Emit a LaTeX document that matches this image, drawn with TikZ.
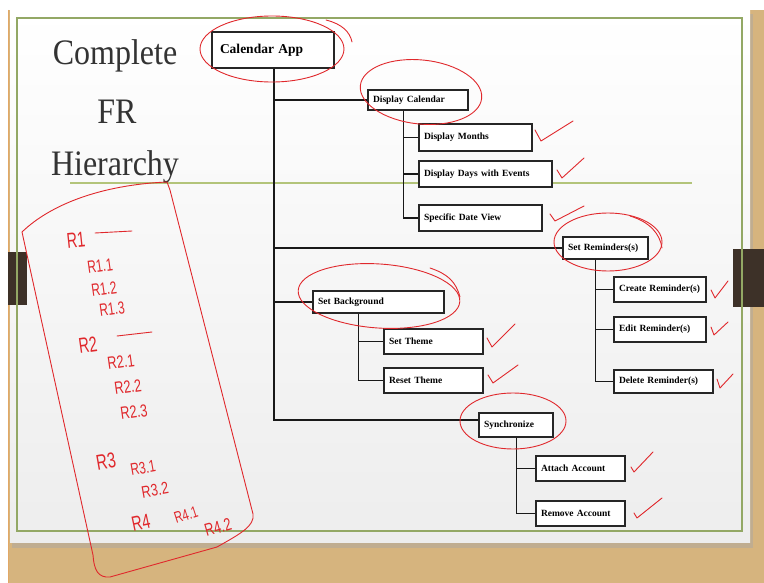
\documentclass[tikz,border=0pt]{standalone}
\usepackage{fontspec}
\setmainfont{Liberation Serif}
\newfontfamily\handfont{Liberation Sans}
\usetikzlibrary{calc}
\definecolor{wood}{HTML}{D6B47E}
\definecolor{woodedge}{HTML}{E2A866}
\definecolor{tab}{HTML}{3D3128}
\definecolor{frameline}{HTML}{93A865}
\definecolor{ruleline}{HTML}{B3C47A}
\definecolor{ink}{HTML}{E0282C}
\definecolor{titlegray}{HTML}{333333}
\tikzset{
  box/.style={draw=black!85, line width=1.3pt, fill=white, inner xsep=5pt,
    inner ysep=0pt, align=left, font=\bfseries\fontsize{9.5}{11}\selectfont},
  link/.style={draw=black!90, line width=1.3pt},
  redpen/.style={draw=ink, line width=0.9pt, line cap=round, line join=round},
  hand/.style={text=ink, inner sep=0pt, font=\handfont\fontsize{16}{16}\selectfont},
  titletext/.style={text=titlegray, font=\fontsize{32}{32}\selectfont}
}
\begin{document}
\begin{tikzpicture}[x=1pt, y=-1pt]
\useasboundingbox (0,0) rectangle (764,583);
% backdrop: paper margin, wooden board, slide with shadow
\fill[white] (0,0) rectangle (764,583);
\fill[wood] (8,10) rectangle (764,583);
\draw[woodedge, line width=1pt] (8.5,10) -- (8.5,583);
\fill[black!35, opacity=0.45] (12,14) rectangle (753,548);
\shade[top color=white, bottom color=black!7] (10,10) rectangle (750,542);
% board tabs
\fill[tab] (8,252) rectangle (27,305);
\fill[tab] (733,249) rectangle (764,307);
% slide frame and title rule
\draw[frameline, line width=1.3pt] (17,18) rectangle (742,531);
\draw[ruleline, line width=1.6pt] (70,183) -- (692,183);
% title
\node[titletext, yscale=1.12] (t1) at (115,56) {Complete};
\node[titletext, yscale=1.12] (t2) at (117,112) {FR};
\node[titletext, yscale=1.12] (t3) at (115,167) {Hierarchy};

% requirement boxes
\node[box, inner xsep=8pt, text width=106pt, minimum height=36pt,
  font=\bfseries\fontsize{13.5}{15}\selectfont] (app) at (273,50) {Calendar App};
\node[box, text width=90pt, minimum height=20pt] (dcal) at (418,100) {Display Calendar};
\node[box, text width=103pt, minimum height=27pt] (dmon) at (475.5,137.5) {Display Months};
\node[box, text width=123pt, minimum height=26pt] (ddays) at (485.5,174) {Display Days with Events};
\node[box, text width=113pt, minimum height=26pt] (sdv) at (480.5,218) {Specific Date View};
\node[box, text width=75pt, minimum height=22pt] (srem) at (605.5,248) {Set Reminders(s)};
\node[box, text width=82pt, minimum height=25pt] (crem) at (660,289.5) {Create Reminder(s)};
\node[box, text width=82pt, minimum height=25pt] (erem) at (660,329.5) {Edit Reminder(s)};
\node[box, text width=89pt, minimum height=23pt] (drem) at (663.5,381.5) {Delete Reminder(s)};
\node[box, text width=121pt, minimum height=22pt] (sbg) at (378.5,302) {Set Background};
\node[box, text width=89pt, minimum height=25pt] (stheme) at (433.5,341.5) {Set Theme};
\node[box, text width=89pt, minimum height=25pt] (rtheme) at (433.5,380.5) {Reset Theme};
\node[box, text width=64pt, minimum height=24pt] (sync) at (516,425) {Synchronize};
\node[box, text width=79pt, minimum height=25pt] (attach) at (580.5,468.5) {Attach Account};
\node[box, text width=79pt, minimum height=25pt] (remove) at (580.5,513.5) {Remove Account};

% stems below the parent boxes
\coordinate (appstem) at ([xshift=1pt]app.south);
\coordinate (dcalstem) at ([xshift=36pt]dcal.south west);
\coordinate (sremstem) at ([xshift=33pt]srem.south west);
\coordinate (sbgstem) at ([xshift=46pt]sbg.south west);
\coordinate (syncstem) at ([xshift=38pt]sync.south west);

% connectors
\draw[link] (appstem) |- (dcal.west);
\draw[link] (appstem) |- (srem.west);
\draw[link] (appstem) |- (sbg.west);
\draw[link] (appstem) |- ([yshift=5pt]sync.west);
\draw[link] (dcalstem) |- (dmon.west);
\draw[link] (dcalstem) |- (ddays.west);
\draw[link] (dcalstem) |- (sdv.west);
\draw[link] (sremstem) |- (crem.west);
\draw[link] (sremstem) |- (erem.west);
\draw[link] (sremstem) |- (drem.west);
\draw[link] (sbgstem) |- (stheme.west);
\draw[link] (sbgstem) |- (rtheme.west);
\draw[link] (syncstem) |- (attach.west);
\draw[link] (syncstem) |- (remove.west);

% red rings around the parent requirements
\draw[redpen] (272,49) ellipse[x radius=72pt, y radius=33pt];
\draw[redpen] (326,20) .. controls (342,24) and (350,32) .. (352,42);
\draw[redpen, rotate around={-6:(421,92)}] (421,92) ellipse[x radius=61pt, y radius=32pt];
\draw[redpen] (608,242) ellipse[x radius=54pt, y radius=29pt];
\draw[redpen] (630,216) .. controls (650,222) and (660,234) .. (662,248);
\draw[redpen, rotate around={-4:(379,296)}] (379,296) ellipse[x radius=81pt, y radius=32pt];
\draw[redpen] (430,268) .. controls (448,274) and (456,282) .. (460,297);
\draw[redpen] (513,421) ellipse[x radius=53pt, y radius=28pt];

% ticks beside the finished leaves
\draw[redpen] (535,130) -- (541,141) -- (573,121);
\draw[redpen] (557,170) -- (562,178) -- (584,158);
\draw[redpen] (550,214) -- (555,221) -- (584,206);
\draw[redpen] (487,338) -- (492,347) -- (515,324);
\draw[redpen] (488,375) -- (493,383) -- (518,365);
\draw[redpen] (711,290) -- (715,298) -- (728,281);
\draw[redpen] (711,327) -- (714,335) -- (728,322);
\draw[redpen] (717,379) -- (720,388) -- (733,374);
\draw[redpen] (631,467) -- (634,472) -- (653,452);
\draw[redpen] (634,513) -- (637,518) -- (662,498);

% hand-drawn frame around the numbering
\draw[redpen] (22,232) .. controls (50,205) and (100,185) .. (167,182)
  -- (170,190) -- (253,514)
  .. controls (255,526) and (240,534) .. (217,547)
  -- (110,577) .. controls (98,578) and (94,570) .. (93,555) -- cycle;

% handwritten requirement numbers
\node[hand, rotate=6] (r1) at (76,240) {\scalebox{0.9}[1.35]{R1}};
\draw[redpen] (95,233) -- (132,231);
\node[hand, rotate=8] (r11) at (100,266) {\scalebox{0.75}[1.1]{R1.1}};
\node[hand, rotate=8] (r12) at (104,289) {\scalebox{0.75}[1.1]{R1.2}};
\node[hand, rotate=8] (r13) at (112,309) {\scalebox{0.75}[1.1]{R1.3}};
\node[hand, rotate=8] (r2) at (88,345) {\scalebox{0.9}[1.35]{R2}};
\draw[redpen] (117,336) -- (152,332);
\node[hand, rotate=8] (r21) at (121,362) {\scalebox{0.8}[1.1]{R2.1}};
\node[hand, rotate=8] (r22) at (128,387) {\scalebox{0.8}[1.1]{R2.2}};
\node[hand, rotate=8] (r23) at (134,412) {\scalebox{0.8}[1.1]{R2.3}};
\node[hand, rotate=10] (r3) at (106,461) {\scalebox{0.95}[1.35]{R3}};
\node[hand, rotate=10] (r31) at (143,468) {\scalebox{0.75}[1.05]{R3.1}};
\node[hand, rotate=10] (r32) at (155,490) {\scalebox{0.8}[1.05]{R3.2}};
\node[hand, rotate=12] (r4) at (141,523) {\scalebox{0.9}[1.3]{R4}};
\node[hand, rotate=18] (r41) at (186,515) {\scalebox{0.7}[1.0]{R4.1}};
\node[hand, rotate=16] (r42) at (218,527) {\scalebox{0.8}[1.1]{R4.2}};
\end{tikzpicture}
\end{document}
